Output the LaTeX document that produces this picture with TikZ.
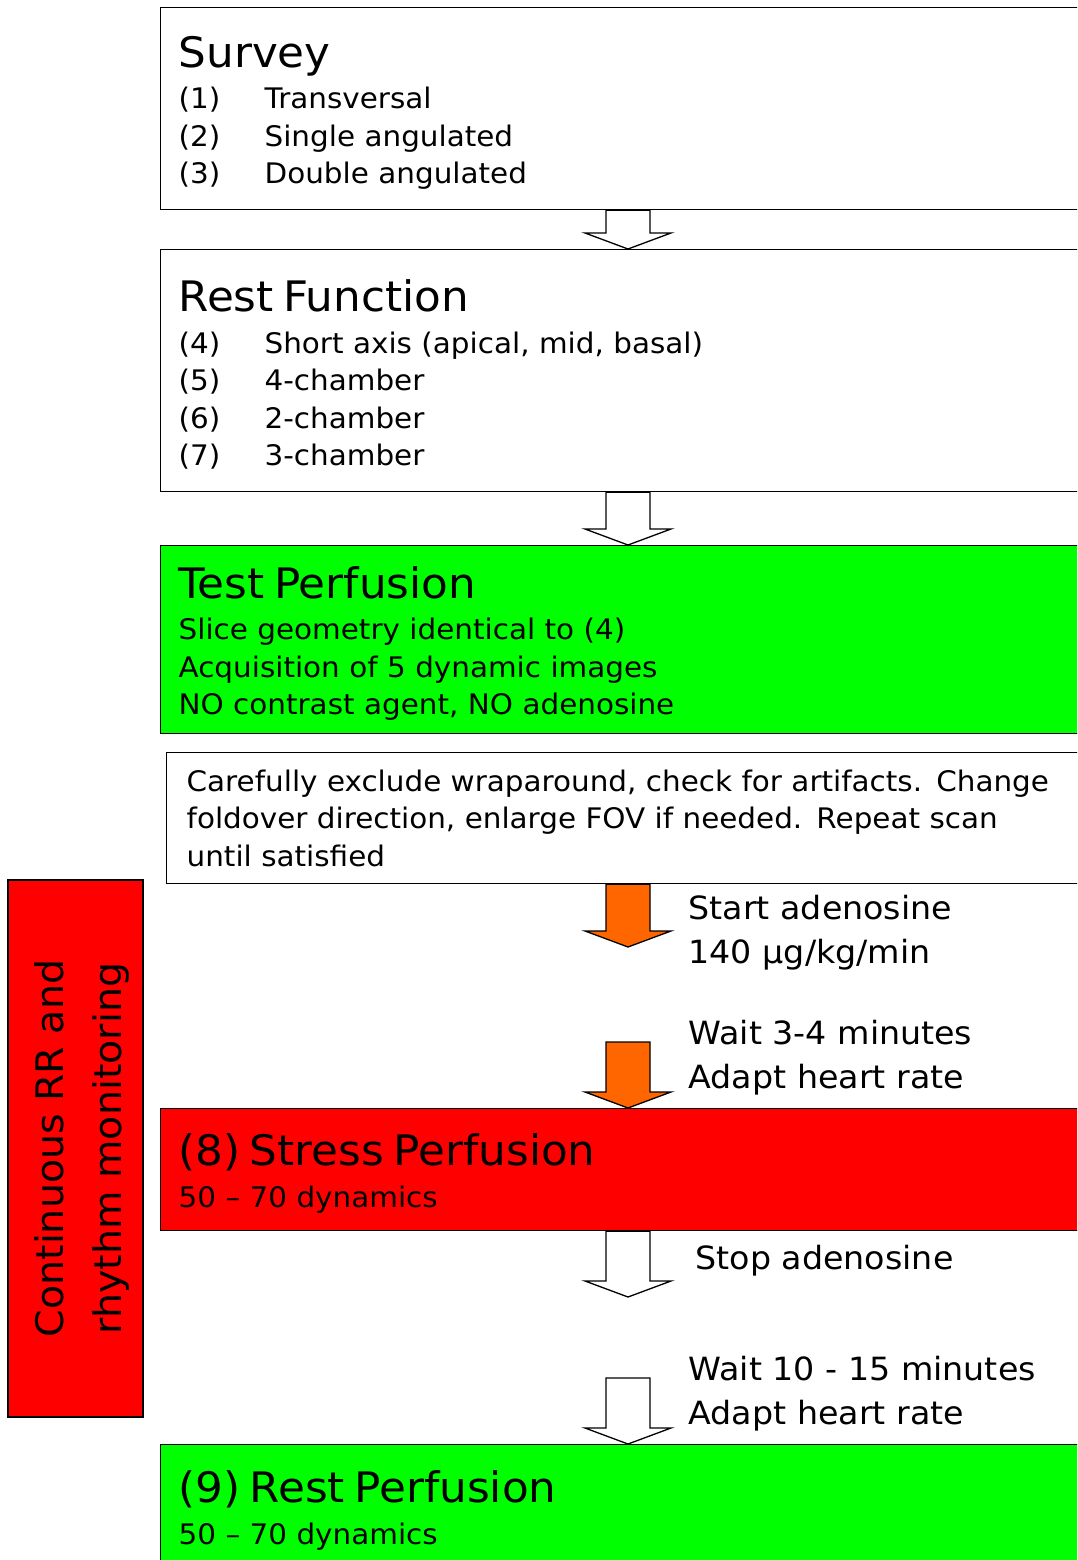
\documentclass[tikz,border=0pt]{standalone}
\usepackage{fontspec}
\setmainfont{DejaVu Sans}[FakeStretch=1.04]
\usetikzlibrary{positioning,calc}
\definecolor{brightgreen}{RGB}{0,255,0}
\definecolor{signalred}{RGB}{255,0,0}
\definecolor{adenoorange}{RGB}{255,102,0}
\newcommand\hd[1]{{\fontsize{42}{49}\selectfont\rule{0pt}{40pt}#1}\\[4pt]}
\newcommand\itm[2]{\makebox[86pt][l]{(#1)}#2}

\begin{document}
\begin{tikzpicture}[x=1pt,y=1pt,line width=1.3pt,
box/.style={draw,rectangle,anchor=north west,minimum width=940pt,text width=904pt,
  inner xsep=18pt,inner ysep=0pt,align=left,font=\fontsize{28.3}{37.5}\selectfont},
fat/.style={to path={let \p1=(\tikztostart),\p2=(\tikztotarget) in
  (\x2-22pt,\y1) -- (\x2+22pt,\y1) -- (\x2+22pt,\y2+16pt) -- (\x2+43pt,\y2+16pt)
  -- (\p2) -- (\x2-43pt,\y2+16pt) -- (\x2-22pt,\y2+16pt) -- cycle}},
note/.style={anchor=west,inner sep=0pt,align=left,font=\fontsize{32}{44}\selectfont}]
\clip (0,0) rectangle (1077,-1560);
\coordinate (ax) at (628,0);

\node[box,minimum height=202pt] (survey) at (160,-7)
  {\hd{Survey}\itm{1}{Transversal}\\\itm{2}{Single angulated}\\\itm{3}{Double angulated}};
\node[box,minimum height=242pt] (rest) at (160,-249)
  {\hd{Rest Function}\itm{4}{Short axis (apical, mid, basal)}\\\itm{5}{4-chamber}\\
   \itm{6}{2-chamber}\\\itm{7}{3-chamber}};
\node[box,fill=brightgreen,minimum height=188pt] (test) at (160,-545)
  {\hd{Test Perfusion}Slice geometry identical to (4)\\Acquisition of 5 dynamic images\\
   NO contrast agent, NO adenosine};
\node[box,minimum height=131pt,minimum width=934pt,text width=894pt,inner xsep=20pt] (check) at (166,-752)
  {Carefully exclude wraparound, check for artifacts. Change\\foldover direction, enlarge FOV if needed. Repeat scan\\until satisfied};
\node[box,fill=signalred,minimum height=122pt] (stress) at (160,-1108)
  {\hd{(8) Stress Perfusion}50 -- 70 dynamics};
\node[box,fill=brightgreen,minimum height=124pt] (restperf) at (160,-1444)
  {\hd{(9) Rest Perfusion}50 -- 70 dynamics};
\node[draw,fill=signalred,rotate=90,minimum width=537pt,minimum height=135pt,align=center,
  font=\fontsize{38}{58}\selectfont] (monitor) at (75.5,-1148.5)
  {\rule{0pt}{41pt}Continuous RR and\\rhythm monitoring};

\coordinate (startend) at (628,-947);
\coordinate (waitstart) at (628,-1042);
\coordinate (stopend) at (628,-1297);
\coordinate (pausestart) at (628,-1378);

\draw[fat,fill=white] (survey.south -| ax) to (rest.north -| ax);
\draw[fat,fill=white] (rest.south -| ax) to (test.north -| ax);
\draw[fat,fill=adenoorange] (check.south -| ax) to (startend);
\draw[fat,fill=adenoorange] (waitstart) to (stress.north -| ax);
\draw[fat,fill=white] (stress.south -| ax) to (stopend);
\draw[fat,fill=white] (pausestart) to (restperf.north -| ax);

\node[note] (startado) at (688,-932.5) {Start adenosine\\140 µg/kg/min};
\node[note] (waitmin) at (688,-1058) {Wait 3-4 minutes\\Adapt heart rate};
\node[note] (stopado) at (695,-1261) {Stop adenosine};
\node[note] (waitlong) at (688,-1394) {Wait 10 - 15 minutes\\Adapt heart rate};
\end{tikzpicture}
\end{document}
